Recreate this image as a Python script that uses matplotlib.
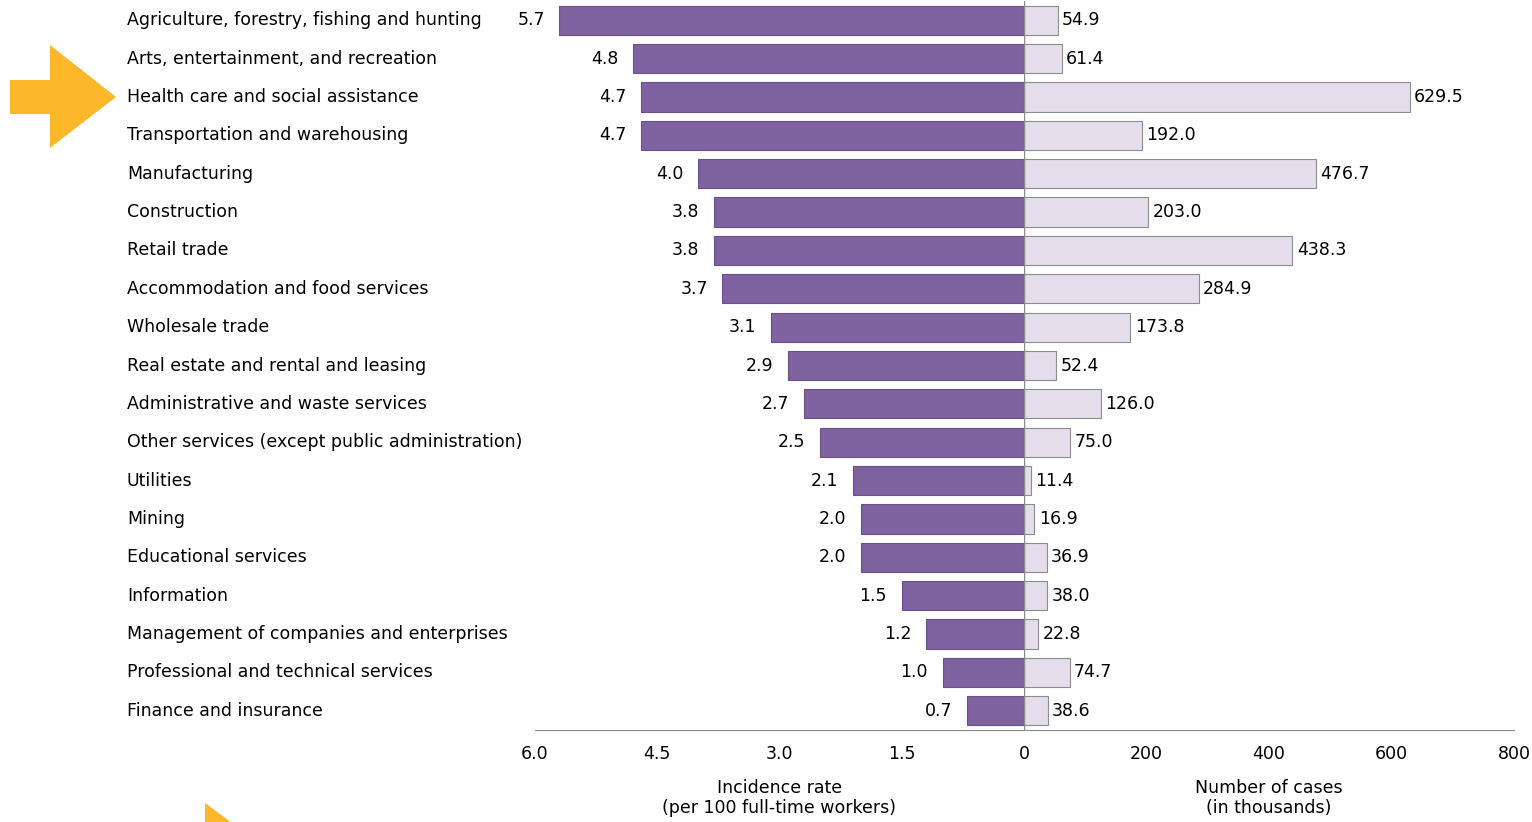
import matplotlib.pyplot as plt
from matplotlib.patches import Polygon
from matplotlib.transforms import blended_transform_factory

industries = [
    "Agriculture, forestry, fishing and hunting",
    "Arts, entertainment, and recreation",
    "Health care and social assistance",
    "Transportation and warehousing",
    "Manufacturing",
    "Construction",
    "Retail trade",
    "Accommodation and food services",
    "Wholesale trade",
    "Real estate and rental and leasing",
    "Administrative and waste services",
    "Other services (except public administration)",
    "Utilities",
    "Mining",
    "Educational services",
    "Information",
    "Management of companies and enterprises",
    "Professional and technical services",
    "Finance and insurance",
]
incidence_rate = [5.7, 4.8, 4.7, 4.7, 4.0, 3.8, 3.8, 3.7, 3.1, 2.9, 2.7, 2.5, 2.1, 2.0, 2.0, 1.5, 1.2, 1.0, 0.7]
cases = [54.9, 61.4, 629.5, 192.0, 476.7, 203.0, 438.3, 284.9, 173.8, 52.4, 126.0, 75.0, 11.4, 16.9, 36.9, 38.0, 22.8, 74.7, 38.6]

rate_ticks = [6.0, 4.5, 3.0, 1.5, 0]
rate_tick_labels = ["6.0", "4.5", "3.0", "1.5", "0"]
case_ticks = [200, 400, 600, 800]

purple = "#7f62a0"
light = "#e4deec"
grey = "#8c8c8c"
orange = "#fdb72a"
fs = 12.5

W, H = 1532, 822
fig = plt.figure(figsize=(W / 100, H / 100), dpi=100)

ax_l = fig.add_axes([535 / W, 1 - 730 / H, 489 / W, 729 / H])
ax_r = fig.add_axes([1024 / W, 1 - 730 / H, 490 / W, 729 / H])

y = list(range(len(industries)))

# left side: incidence rate
ax_l.barh(y, incidence_rate, height=0.76, color=purple, edgecolor="#6a4f8a", linewidth=0.8)
ax_l.set_xlim(6.0, 0)
ax_l.set_ylim(len(industries) - 0.5, -0.5)
for yi, v in zip(y, incidence_rate):
    ax_l.text(v + 0.18, yi, f"{v:.1f}", ha="right", va="center", fontsize=fs)
ax_l.set_xticks(rate_ticks)
ax_l.set_xticklabels(rate_tick_labels)
ax_l.set_xlabel("Incidence rate\n(per 100 full-time workers)", fontsize=fs, labelpad=11, linespacing=1.2)

# right side: number of cases
ax_r.barh(y, cases, height=0.76, color=light, edgecolor=grey, linewidth=0.8)
ax_r.set_xlim(0, 800)
ax_r.set_ylim(len(industries) - 0.5, -0.5)
for yi, v in zip(y, cases):
    ax_r.text(v + 7, yi, f"{v:.1f}", ha="left", va="center", fontsize=fs)
ax_r.set_xticks(case_ticks)
ax_r.set_xlabel("Number of cases\n(in thousands)", fontsize=fs, labelpad=11, linespacing=1.2)

for ax in (ax_l, ax_r):
    for s in ("top", "left", "right"):
        ax.spines[s].set_visible(False)
    ax.spines["bottom"].set_color(grey)
    ax.set_yticks([])
    ax.tick_params(axis="x", length=0, labelsize=fs, pad=11)
    ax.patch.set_alpha(0)

ax_r.axvline(0, color=grey, linewidth=1, zorder=3)

# category names, left aligned
name_tr = blended_transform_factory(fig.transFigure, ax_l.transData)
for yi, name in zip(y, industries):
    fig.text(127 / W, yi, name, transform=name_tr, ha="left", va="center", fontsize=fs)

# orange arrow pointing at health care
def px(x, yy):
    return (x / W, 1 - yy / H)

arrow = Polygon([px(10, 80), px(50, 80), px(50, 45), px(116, 97), px(50, 148),
                 px(50, 114), px(10, 114)], closed=True, transform=fig.transFigure,
                facecolor=orange, edgecolor="none")
fig.patches.append(arrow)
tri = Polygon([px(205, 803), px(232, 823), px(205, 823)], closed=True,
              transform=fig.transFigure, facecolor=orange, edgecolor="none")
fig.patches.append(tri)

fig.savefig("out.png", dpi=100)
